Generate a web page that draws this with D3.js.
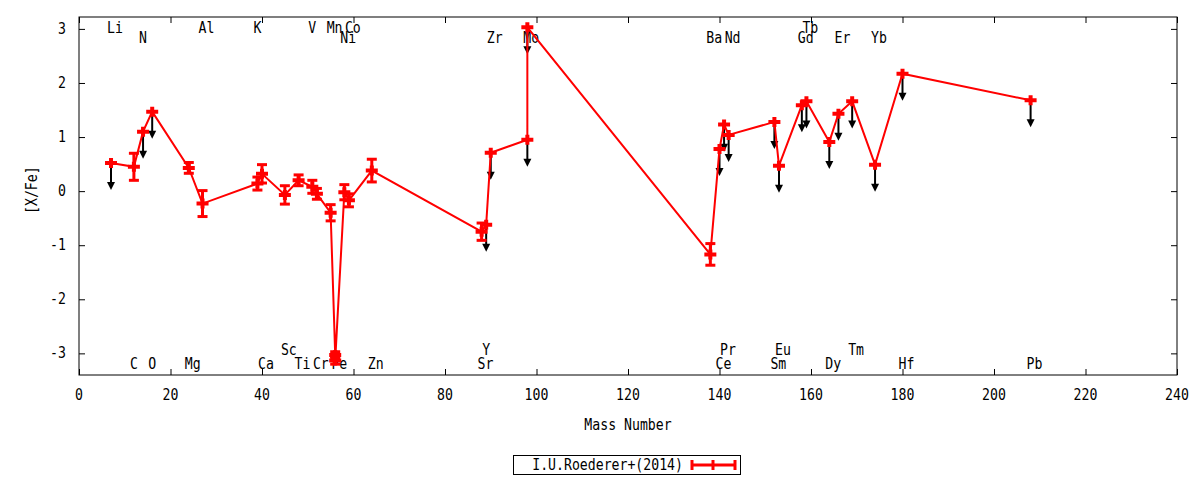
<!DOCTYPE html>
<html>
<head>
<meta charset="utf-8">
<script src="https://cdn.jsdelivr.net/npm/d3@7"></script>
<style>
  body { margin: 0; background: #fff; }
  text { font-family: "DejaVu Sans Mono", monospace; font-size: 15px; fill: #000; }
</style>
</head>
<body>
<div id="chart"></div>
<script>
// abundance points, in the order the line joins them
const elements = ["Li","C","N","O","Mg","Al","K","Ca","Sc","Ti","V","Cr","Mn","Fe","Fe","Ni","Co","Zn",
  "Sr","Y","Zr","Mo","Mo","Ba","Ce","Pr","Nd","Sm","Eu","Gd","Tb","Dy","Er","Tm","Yb","Hf","Pb"];
const massNumbers = [7,12,14,16,24,27,39,40,45,48,51,52,55,56,56,58,59,64,
  88,89,90,98,98,138,140,141,142,152,153,158,159,164,166,169,174,180,208];
const xfeValues = [0.52,0.45,1.10,1.47,0.43,-0.23,0.14,0.32,-0.07,0.20,0.08,-0.05,-0.40,-3.03,-3.13,-0.02,-0.17,0.38,
  -0.75,-0.62,0.71,0.95,3.03,-1.17,0.78,1.23,1.04,1.28,0.47,1.59,1.66,0.91,1.43,1.66,0.49,2.17,1.68];
const xfeErrors = [0,0.25,0,0,0.1,0.24,0.12,0.17,0.17,0.1,0.12,0.1,0.15,0.06,0.07,0.14,0.12,0.21,
  0.16,0,0,0,0,0.2,0,0,0,0,0,0,0,0,0,0,0,0,0];
const upperLimit = [1,0,1,1,0,0,0,0,0,0,0,0,0,0,0,0,0,0,
  0,1,1,1,1,0,1,1,1,1,1,1,1,1,1,1,1,1,1];

// element names written along the top and bottom of the frame (row 0/1 top, 2/3 bottom)
const labelNames = ["Li","N","Al","K","V","Mn","Co","Ni","Zr","Mo","Ba","Nd","Tb","Gd","Er","Yb",
  "C","O","Mg","Sc","Ca","Ti","Cr","Fe","Zn","Y","Sr","Pr","Ce","Eu","Sm","Dy","Tm","Hf","Pb"];
const labelMass = [7,14,27,39,51,55,59,58,90,98,138,142,159,158,166,174,
  12,16,24,45,40,48,52,56,64,89,88,141,140,153,152,164,169,180,208];
const labelRow = [0,1,0,0,0,0,0,1,1,1,1,1,0,1,1,1,
  3,3,3,2,3,3,3,3,3,2,3,2,3,2,3,3,2,3,3];

const xTicks = d3.range(0, 241, 20);
const yTicks = [-3,-2,-1,0,1,2,3];
const legendLabel = "I.U.Roederer+(2014)";

class AbundancePlot {
  constructor(_config) {
    this.config = {
      parentElement: _config.parentElement,
      containerWidth: _config.containerWidth || 1200,
      containerHeight: _config.containerHeight || 480,
      margin: _config.margin || { top: 17, right: 23, bottom: 105, left: 79 }
    };
    this.data = elements.map((el, i) => ({
      el: el, mass: massNumbers[i], value: xfeValues[i],
      err: xfeErrors[i], ul: upperLimit[i] === 1
    }));
    this.initVis();
  }

  // narrow the mono font a bit, the reference glyphs are condensed
  txt(g, x, y, s, anchor) {
    return g.append("text")
      .attr("transform", `translate(${x},${y}) scale(0.88,1)`)
      .attr("text-anchor", anchor || "start")
      .text(s);
  }

  initVis() {
    let vis = this;
    const m = vis.config.margin;
    vis.width = vis.config.containerWidth - m.left - m.right;
    vis.height = vis.config.containerHeight - m.top - m.bottom;

    vis.svg = d3.select(vis.config.parentElement).append("svg")
      .attr("width", vis.config.containerWidth)
      .attr("height", vis.config.containerHeight);

    vis.chart = vis.svg.append("g").attr("transform", `translate(${m.left},${m.top})`);

    vis.x = d3.scaleLinear().domain([0, 240]).range([0, vis.width]);
    vis.y = d3.scaleLinear().domain([-3.40, 3.22]).range([vis.height, 0]);

    // ticks inward on all four sides
    const tl = 6;
    const xAxisB = d3.axisBottom(vis.x).tickValues(xTicks).tickSize(-tl).tickFormat("");
    const xAxisT = d3.axisTop(vis.x).tickValues(xTicks).tickSize(-tl).tickFormat("");
    const yAxisL = d3.axisLeft(vis.y).tickValues(yTicks).tickSize(-tl).tickFormat("");
    const yAxisR = d3.axisRight(vis.y).tickValues(yTicks).tickSize(-tl).tickFormat("");
    vis.chart.append("g").attr("transform", `translate(0,${vis.height})`).call(xAxisB);
    vis.chart.append("g").call(xAxisT);
    vis.chart.append("g").call(yAxisL);
    vis.chart.append("g").attr("transform", `translate(${vis.width},0)`).call(yAxisR);
    vis.chart.selectAll(".domain").remove();
    vis.chart.selectAll(".tick line").attr("stroke", "#000");

    vis.chart.append("rect")
      .attr("width", vis.width).attr("height", vis.height)
      .attr("fill", "none").attr("stroke", "#000").attr("stroke-width", 1);

    // tick labels
    xTicks.forEach(t => vis.txt(vis.chart, vis.x(t), vis.height + 25, String(t), "middle"));
    yTicks.forEach(t => vis.txt(vis.chart, -13, vis.y(t) + 5, String(t), "end"));

    // axis titles
    vis.txt(vis.chart, vis.x(120), vis.height + 55, "Mass Number", "middle");
    vis.chart.append("text")
      .attr("transform", `translate(${37 - m.left},${vis.y(0) - 1}) rotate(-90) scale(0.88,1)`)
      .attr("text-anchor", "middle")
      .text("[X/Fe]");

    // element names
    const rowY = [16, 26, 338, 352];
    labelNames.forEach((nm, i) => {
      vis.txt(vis.chart, vis.x(labelMass[i]) - 4, rowY[labelRow[i]], nm, "start");
    });

    vis.updateVis();
  }

  updateVis() {
    let vis = this;
    const red = "#ff0000";

    // upper limit arrows, 0.5 dex long
    const arrows = vis.chart.append("g");
    vis.data.filter(d => d.ul).forEach(d => {
      const px = vis.x(d.mass), y0 = vis.y(d.value), y1 = vis.y(d.value - 0.5);
      arrows.append("line")
        .attr("x1", px).attr("x2", px).attr("y1", y0).attr("y2", y1 - 6)
        .attr("stroke", "#000").attr("stroke-width", 2);
      arrows.append("path")
        .attr("d", `M${px - 4},${y1 - 8}L${px + 4},${y1 - 8}L${px},${y1}Z`)
        .attr("fill", "#000");
    });

    // joining line
    const line = d3.line().x(d => vis.x(d.mass)).y(d => vis.y(d.value));
    vis.chart.append("path")
      .datum(vis.data)
      .attr("d", line)
      .attr("fill", "none")
      .attr("stroke", red)
      .attr("stroke-width", 2);

    // error bars
    const bars = vis.chart.selectAll(".ebar")
      .data(vis.data.filter(d => d.err > 0))
      .enter().append("g").attr("class", "ebar");
    bars.append("line")
      .attr("x1", d => vis.x(d.mass)).attr("x2", d => vis.x(d.mass))
      .attr("y1", d => vis.y(d.value + d.err)).attr("y2", d => vis.y(d.value - d.err))
      .attr("stroke", red).attr("stroke-width", 3);
    [1, -1].forEach(sg => {
      bars.append("line")
        .attr("x1", d => vis.x(d.mass) - 5).attr("x2", d => vis.x(d.mass) + 5)
        .attr("y1", d => vis.y(d.value + sg * d.err)).attr("y2", d => vis.y(d.value + sg * d.err))
        .attr("stroke", red).attr("stroke-width", 3);
    });

    // plus markers
    vis.chart.selectAll(".pt")
      .data(vis.data)
      .enter().append("path")
      .attr("class", "pt")
      .attr("transform", d => `translate(${vis.x(d.mass)},${vis.y(d.value)})`)
      .attr("d", "M-6,0H6M0,-5V5")
      .attr("stroke", red)
      .attr("stroke-width", 4)
      .attr("fill", "none");

    // legend
    const lg = vis.svg.append("g");
    lg.append("rect")
      .attr("x", 513.5).attr("y", 455.5).attr("width", 227).attr("height", 19)
      .attr("fill", "#fff").attr("stroke", "#000");
    vis.txt(lg, 683, 470, legendLabel, "end");
    lg.append("line").attr("x1", 692).attr("x2", 735).attr("y1", 465).attr("y2", 465)
      .attr("stroke", red).attr("stroke-width", 3);
    [692, 713, 735].forEach(lx => {
      lg.append("line").attr("x1", lx).attr("x2", lx).attr("y1", 460).attr("y2", 470)
        .attr("stroke", red).attr("stroke-width", 3);
    });
  }
}

new AbundancePlot({ parentElement: "#chart" });
</script>
</body>
</html>
